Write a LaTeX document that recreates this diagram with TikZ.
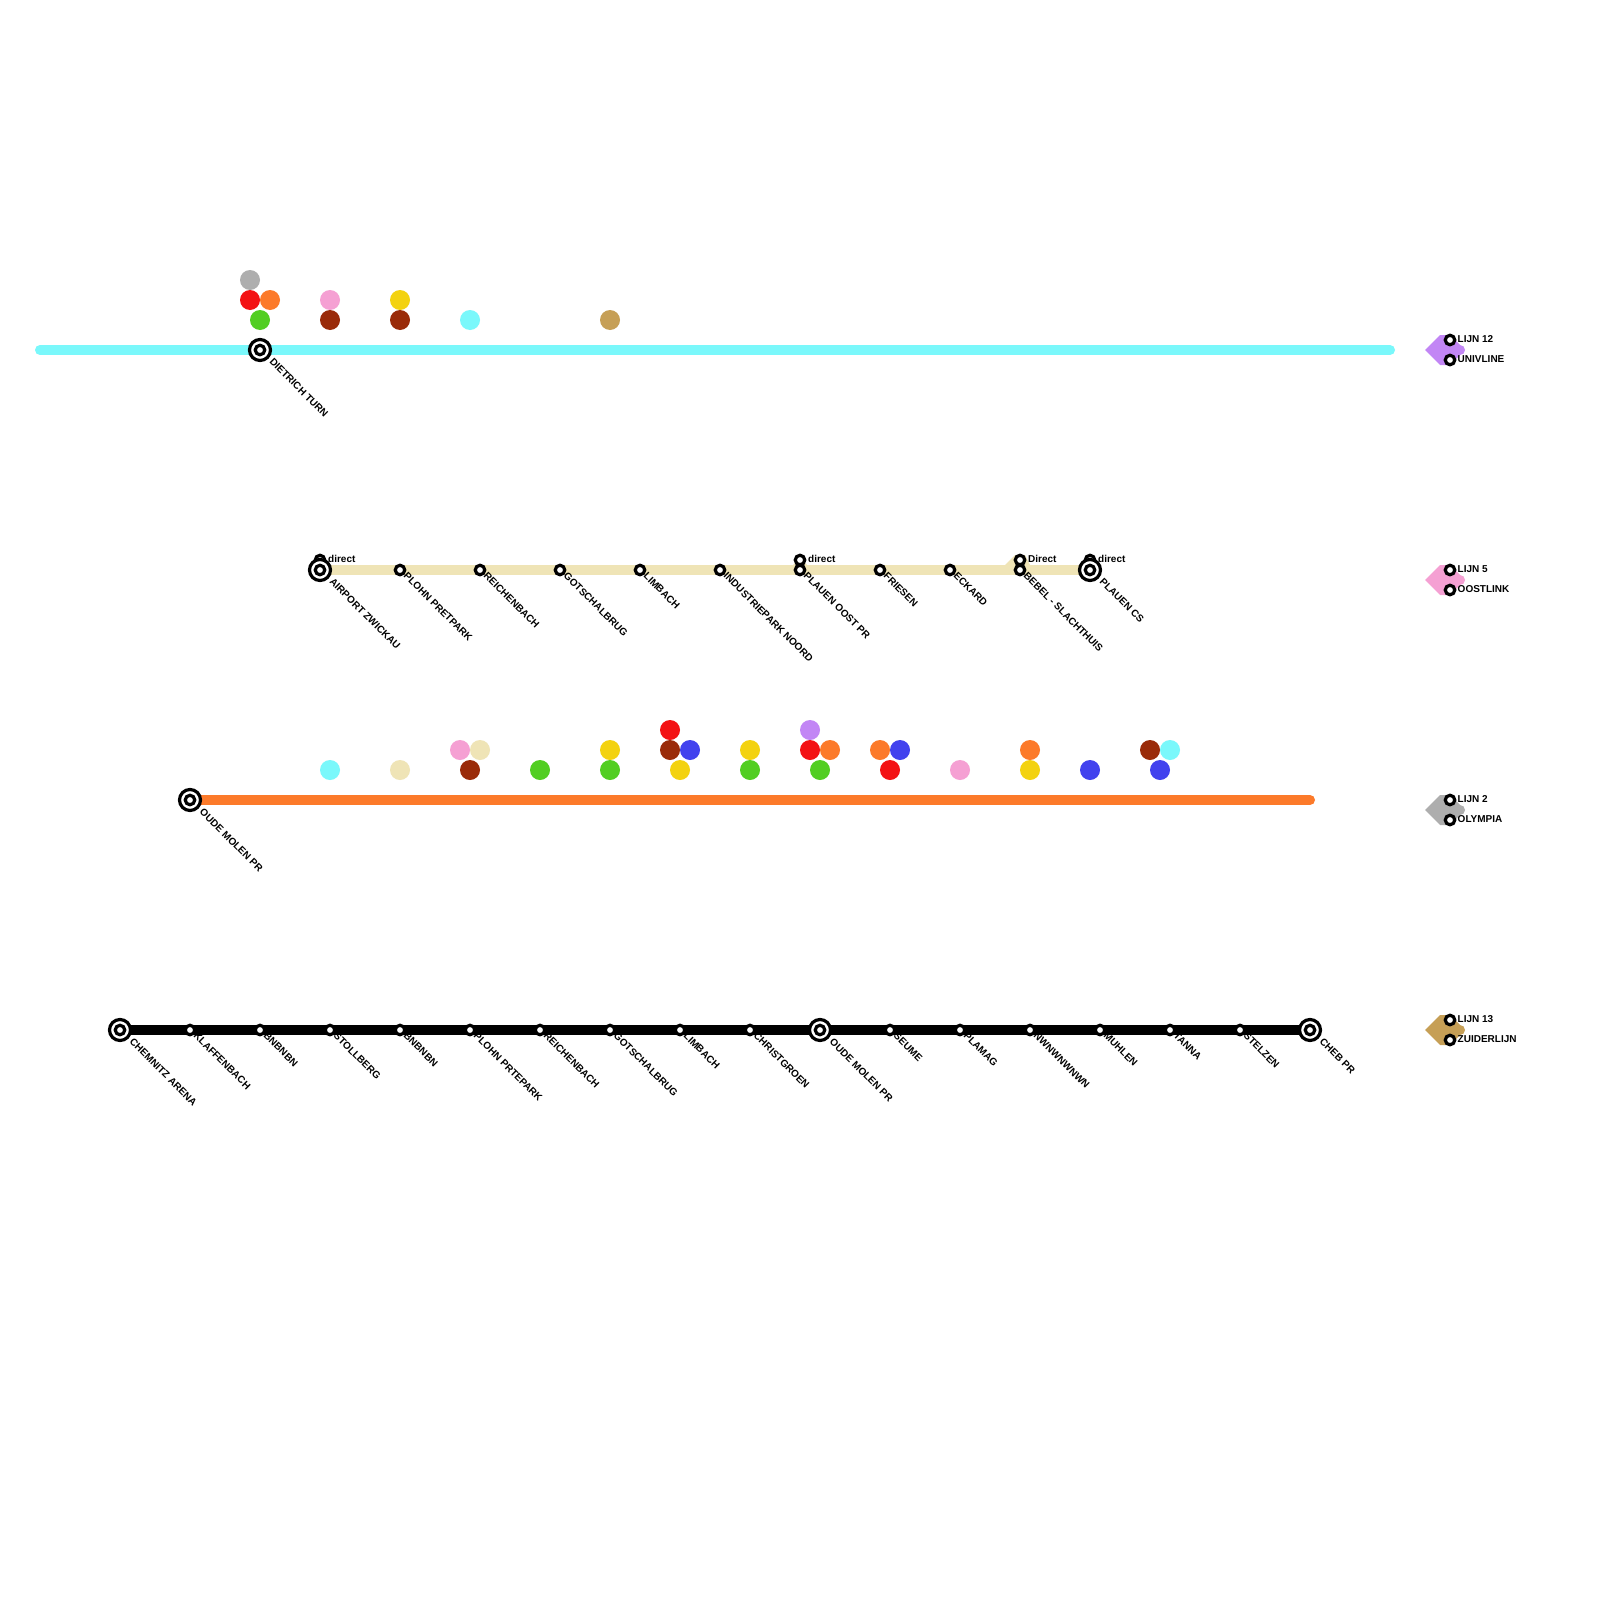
\documentclass[tikz,border=0pt]{standalone}
\usepackage{fontspec}
\setmainfont{Liberation Sans}
\begin{document}
\begin{tikzpicture}[x=1pt,y=-1pt,
  trackline/.style={line width=10pt,line cap=round},
  dot/.style={circle,inner sep=0pt,minimum size=20pt,fill=#1},
  stop/.style={circle,draw=black,line width=3.2pt,fill=white,inner sep=0pt,outer sep=0pt,minimum size=9.5pt},
  term/.style={circle,draw=black,line width=3.2pt,fill=white,inner sep=0pt,outer sep=0pt,minimum size=21pt},
  termcore/.style={circle,draw=black,line width=3.2pt,fill=white,inner sep=0pt,outer sep=0pt,minimum size=9.5pt},
  lab/.style={font=\fontsize{10}{12}\selectfont\bfseries,inner sep=0pt,rotate=-45,anchor=north west,text=black},
  leg/.style={font=\fontsize{10}{12}\selectfont\bfseries,inner sep=0pt,anchor=west,text=black}]
\definecolor{cCyan}{HTML}{7AF8FB}
\definecolor{cBeige}{HTML}{EFE4B6}
\definecolor{cOrange}{HTML}{FC7A2A}
\definecolor{cPurple}{HTML}{C286F5}
\definecolor{cPink}{HTML}{F5A0D3}
\definecolor{cGrey}{HTML}{AEAEAE}
\definecolor{cTan}{HTML}{C69F56}
\definecolor{cRed}{HTML}{F31214}
\definecolor{cGreen}{HTML}{52CE22}
\definecolor{cBrown}{HTML}{9A2B09}
\definecolor{cYellow}{HTML}{F3D20F}
\definecolor{cBlue}{HTML}{4242EE}
\useasboundingbox (0,0) rectangle (1600,1600);
\fill[white] (0,0) rectangle (1600,1600);
% free ends
\coordinate (a0) at (40,350);
\coordinate (a1) at (1390,350);
\coordinate (c1) at (1310,800);
\coordinate (pa) at (260,350);
\coordinate (pb) at (320,570);
\coordinate (pc) at (1090,570);
\coordinate (pd) at (190,800);
\coordinate (pe) at (120,1030);
\coordinate (pf) at (1310,1030);
\draw[trackline,cCyan] (a0) -- (a1);
\draw[trackline,line cap=butt,cBeige] (pb) -- (pc);
\fill[cBeige] (1005,565) -- (1015,555) -- (1025,555) -- (1030,565) -- cycle;
\fill[cBeige] (793,565) -- (796,562) -- (804,562) -- (807,565) -- cycle;
\draw[trackline,cOrange] (pd) -- (c1);
\draw[trackline,black] (pe) -- (pf);
% legend shapes
\foreach \yy/\cc in {350/cPurple,580/cPink,810/cGrey,1030/cTan}{
  \fill[\cc] (1425,\yy) -- (1440,\yy-15) -- (1450,\yy-15) -- (1460,\yy-5) arc[start angle=-90,end angle=90,radius=5] -- (1450,\yy+15) -- (1440,\yy+15) -- cycle;
}
% colour dots
\foreach \n/\x/\y/\c in {
 d1/250/280/cGrey,d2/250/300/cRed,d3/270/300/cOrange,d4/260/320/cGreen,d5/330/300/cPink,d6/330/320/cBrown,d7/400/300/cYellow,d8/400/320/cBrown,d9/470/320/cCyan,d10/610/320/cTan,
 e1/330/770/cCyan,e2/400/770/cBeige,e3/460/750/cPink,e4/480/750/cBeige,e5/470/770/cBrown,e6/540/770/cGreen,e7/610/750/cYellow,e8/610/770/cGreen,e9/670/730/cRed,e10/670/750/cBrown,e11/690/750/cBlue,e12/680/770/cYellow,e13/750/750/cYellow,e14/750/770/cGreen,e15/810/730/cPurple,e16/810/750/cRed,e17/830/750/cOrange,e18/820/770/cGreen,e19/880/750/cOrange,e20/900/750/cBlue,e21/890/770/cRed,e22/960/770/cPink,e23/1030/750/cOrange,e24/1030/770/cYellow,e25/1090/770/cBlue,e26/1150/750/cBrown,e27/1170/750/cCyan,e28/1160/770/cBlue}
 \node[dot=\c] (\n) at (\x,\y) {};
% terminus labels
\foreach \n/\x/\y/\t in {ta/260/350/DIETRICH TURN,tb/320/570/AIRPORT ZWICKAU,tc/1090/570/PLAUEN CS,td/190/800/OUDE MOLEN PR,te/120/1030/CHEMNITZ ARENA,tf/820/1030/OUDE MOLEN PR,tg/1310/1030/CHEB PR}{
 \coordinate (\n) at (\x,\y);
 \node[lab] (\n L) at (\x+14,\y+7.5) {\t};
}
% upper small stops
\foreach \n/\x/\y/\t in {ua/320/560/direct,ub/800/560/direct,uc/1020/560/Direct,ud/1090/560/direct}{
 \node[stop] (\n) at (\x,\y) {};
 \node[leg] (\n L) at (\x+8,\y-1) {\t};
}
\foreach \n/\x/\y in {ta/260/350,tb/320/570,tc/1090/570,td/190/800,te/120/1030,tf/820/1030,tg/1310/1030}{
 \node[term] at (\x,\y) {};
 \node[termcore] at (\x,\y) {};
}
% stops on lines
\foreach \n/\x/\y/\t in {s1/400/570/PLOHN PRETPARK,s2/480/570/REICHENBACH,s3/560/570/GOTSCHALBRUG,s4/640/570/LIMBACH,s5/720/570/INDUSTRIEPARK NOORD,s6/800/570/PLAUEN OOST PR,s7/880/570/FRIESEN,s8/950/570/ECKARD,s9/1020/570/BEBEL - SLACHTHUIS,
 k1/190/1030/KLAFFENBACH,k2/260/1030/BNBNBN,k3/330/1030/STOLLBERG,k4/400/1030/BNBNBN,k5/470/1030/PLOHN PRTEPARK,k6/540/1030/REICHENBACH,k7/610/1030/GOTSCHALBRUG,k8/680/1030/LIMBACH,k9/750/1030/CHRISTGROEN,k10/890/1030/SEUME,k11/960/1030/PLAMAG,k12/1030/1030/NWNWNWNWN,k13/1100/1030/MUHLEN,k14/1170/1030/TANNA,k15/1240/1030/STELZEN}{
 \node[stop] (\n) at (\x,\y) {};
 \node[lab] (\n L) at (\x+8,\y+1.5) {\t};
}
% legend
\foreach \n/\yy/\ta/\tb in {la/350/LIJN 12/UNIVLINE,lb/580/LIJN 5/OOSTLINK,lc/810/LIJN 2/OLYMPIA,ld/1030/LIJN 13/ZUIDERLIJN}{
 \node[stop] (\n1) at (1450,\yy-10) {};
 \node[stop] (\n2) at (1450,\yy+10) {};
 \node[leg] at (1457.5,\yy-11) {\ta};
 \node[leg] at (1457.5,\yy+9) {\tb};
}
\end{tikzpicture}
\end{document}
